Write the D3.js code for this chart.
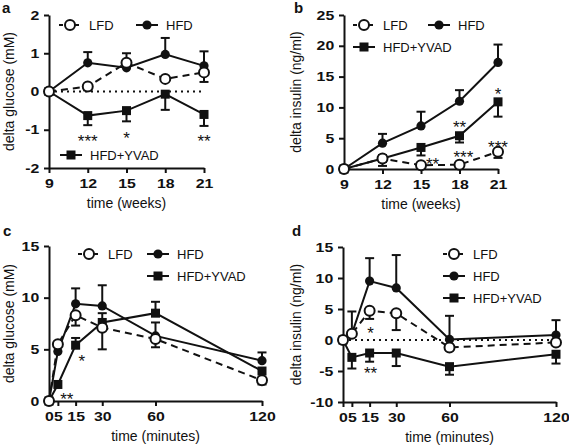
<!DOCTYPE html>
<html><head><meta charset="utf-8">
<script src="https://cdn.jsdelivr.net/npm/d3@7"></script>
<style>
body{margin:0;background:#fff}
text{font-family:"Liberation Sans",Arial,Helvetica,sans-serif;fill:#111}
</style>
</head><body>
<svg id="chart" width="569" height="445"></svg>
<script>
// ---------- data ----------
const weeks = [9, 12, 15, 18, 21];
const minutes = [0, 5, 15, 30, 60, 120];
const seriesNames = ["LFD", "HFD", "HFD+YVAD"];

// panel a: delta glucose (mM) vs weeks
const aLFD = [0, 0.13, 0.75, 0.33, 0.50];
const aLFDerr = [null, 0.03, null, null, 0.25];
const aHFD = [0, 0.75, 0.62, 0.97, 0.67];
const aHFDerr = [null, 1.03, 1.0, 1.4, 1.05];
const aYVAD = [0, -0.63, -0.50, -0.07, -0.60];
const aYVADerr = [null, -0.88, -0.78, -0.48, -0.90];
const aStars = [["***", 12, -1.2], ["*", 15, -1.1], ["**", 21, -1.2]];
const aYTicks = [-2, -1, 0, 1, 2];

// panel b: delta insulin (ng/ml) vs weeks
const bLFD = [0, 1.7, 0.6, 0.7, 2.8];
const bLFDerr = [null, 0.5, null, null, 1.8];
const bHFD = [0, 4.2, 7.0, 11.0, 17.3];
const bHFDerr = [null, 5.7, 9.3, 12.8, 20.2];
const bYVAD = [0, 1.7, 3.5, 5.4, 10.9];
const bYVADerr = [null, null, 2.2, 4.3, 8.5];
const bStars = [["**", 15.9, 1.5], ["***", 18.3, 2.6], ["**", 18, 7.5], ["***", 21, 4.2], ["*", 21, 12.8]];
const bYTicks = [0, 5, 10, 15, 20, 25];

// panel c: delta glucose (mM) vs minutes
const cLFD = [0, 5.5, 8.3, 7.1, 6.0, 2.0];
const cLFDerr = [null, null, 7.3, 5.0, 5.2, 1.6];
const cHFD = [0, 4.8, 9.4, 9.2, 6.3, 3.9];
const cHFDerr = [null, null, 10.9, 11.2, 7.6, 4.7];
const cYVAD = [0, 1.6, 5.4, 7.6, 8.5, 2.9];
const cYVADerr = [null, null, 6.1, 8.5, 9.6, null];
const cStars = [["**", 10, 0.6], ["*", 18.5, 4.3]];
const cYTicks = [0, 5, 10, 15];

// panel d: delta insulin (ng/ml) vs minutes
const dLFD = [0, 1.0, 4.7, 4.3, -1.2, -0.4];
const dLFDerr = [null, null, 3.4, 1.6, null, null];
const dHFD = [0, 1.0, 9.5, 8.4, 0.1, 0.8];
const dHFDerr = [null, 4.6, 13.2, 13.7, 3.9, 3.2];
const dYVAD = [0, -2.8, -2.1, -2.1, -4.3, -2.3];
const dYVADerr = [null, -4.6, -3.5, -4.2, -5.6, -3.8];
const dStars = [["*", 15.5, 1.7], ["**", 15.5, -4.6]];
const dYTicks = [-10, -5, 0, 5, 10, 15];

// ---------- drawing ----------
const svg = d3.select("#chart");
const FONT = '"Liberation Sans",Arial,Helvetica,sans-serif';

function marker(g, type, x, y) {
  if (type === "LFD") {
    g.append("circle").attr("cx", x).attr("cy", y).attr("r", 5)
      .attr("fill", "#fff").attr("stroke", "#111").attr("stroke-width", 2);
  } else if (type === "HFD") {
    g.append("circle").attr("cx", x).attr("cy", y).attr("r", 4.6).attr("fill", "#111");
  } else {
    g.append("rect").attr("x", x - 4.5).attr("y", y - 4.5).attr("width", 9).attr("height", 9).attr("fill", "#111");
  }
}

function drawPanel(p) {
  const g = svg.append("g");
  const x = d3.scaleLinear().domain(p.xDomain).range(p.xRange);
  const y = d3.scaleLinear().domain(p.yDomain).range(p.yRange);

  // axes
  const xa = g.append("g").attr("transform", `translate(0,${p.yRange[0]})`)
    .call(d3.axisBottom(x).tickValues(p.xTicks).tickSize(5).tickSizeOuter(0).tickPadding(6).tickFormat(d => String(d)));
  const ya = g.append("g").attr("transform", `translate(${p.xRange[0]},0)`)
    .call(d3.axisLeft(y).tickValues(p.yTicks).tickSize(5).tickSizeOuter(0).tickPadding(3).tickFormat(d => String(d)));
  [xa, ya].forEach(a => {
    a.select(".domain").attr("stroke", "#111").attr("stroke-width", 2);
    a.selectAll(".tick line").attr("stroke", "#111").attr("stroke-width", 2);
    a.selectAll(".tick text").attr("font-family", FONT).attr("font-size", 13).attr("font-weight", "bold")
      .attr("fill", "#111").attr("transform", "scale(1.22,1)");
  });

  // dotted zero line
  if (p.zeroLine) {
    g.append("line").attr("x1", x(p.xDomain[0])).attr("x2", x(p.xDomain[1]))
      .attr("y1", y(0)).attr("y2", y(0)).attr("stroke", "#111").attr("stroke-width", 2)
      .attr("stroke-dasharray", "2,4");
  }

  // series: YVAD, HFD, LFD (LFD on top)
  const order = [2, 1, 0];
  order.forEach(i => {
    const name = seriesNames[i];
    const vals = p.series[i], errs = p.errs[i];
    const pts = p.xs.map((xv, k) => [xv, vals[k]]);
    const line = d3.line().x(d => x(d[0])).y(d => y(d[1]));
    g.append("path").attr("d", line(pts)).attr("fill", "none").attr("stroke", "#111")
      .attr("stroke-width", 2).attr("stroke-dasharray", name === "LFD" ? "7,5" : null);
    errs.forEach((e, k) => {
      if (e === null) return;
      const cx = x(p.xs[k]);
      g.append("line").attr("x1", cx).attr("x2", cx).attr("y1", y(vals[k])).attr("y2", y(e))
        .attr("stroke", "#111").attr("stroke-width", 2);
      g.append("line").attr("x1", cx - 4.5).attr("x2", cx + 4.5).attr("y1", y(e)).attr("y2", y(e))
        .attr("stroke", "#111").attr("stroke-width", 2);
    });
  });
  order.forEach(i => {
    const vals = p.series[i];
    p.xs.forEach((xv, k) => marker(g, seriesNames[i], x(xv), y(vals[k])));
  });

  // stars
  p.stars.forEach(s => {
    g.append("text").attr("x", x(s[1])).attr("y", y(s[2]) + 10).attr("text-anchor", "middle")
      .attr("font-size", 17).text(s[0]);
  });

  // axis titles
  g.append("text").attr("transform", `translate(${p.yLabelX},${(p.yRange[0] + p.yRange[1]) / 2}) rotate(-90)`)
    .attr("text-anchor", "middle").attr("dy", "0.35em").attr("font-size", 14).text(p.yLabel);
  g.append("text").attr("x", (p.xRange[0] + p.xRange[1]) / 2).attr("y", p.yRange[0] + 40)
    .attr("text-anchor", "middle").attr("font-size", 14).text(p.xLabel);

  // panel letter
  g.append("text").attr("x", p.letterPos[0]).attr("y", p.letterPos[1]).attr("font-size", 15)
    .attr("font-weight", "bold").text(p.letter);

  // legend
  p.legend.forEach(l => {
    const name = seriesNames[l[0]];
    const x0 = l[1], yy = l[2];
    g.append("line").attr("x1", x0).attr("x2", x0 + 22).attr("y1", yy).attr("y2", yy)
      .attr("stroke", "#111").attr("stroke-width", 2).attr("stroke-dasharray", name === "LFD" ? "4,4" : null);
    marker(g, name, x0 + 11, yy);
    g.append("text").attr("x", x0 + 30).attr("y", yy).attr("dy", "0.36em").attr("font-size", 13).text(name);
  });
}

drawPanel({
  letter: "a", letterPos: [2, 13],
  xs: weeks, xTicks: weeks, xDomain: [9, 21], xRange: [49, 204],
  yDomain: [-2, 2], yRange: [168, 15], yTicks: aYTicks,
  series: [aLFD, aHFD, aYVAD], errs: [aLFDerr, aHFDerr, aYVADerr],
  stars: aStars, zeroLine: true,
  yLabel: "delta glucose (mM)", yLabelX: 9, xLabel: "time (weeks)",
  legend: [[0, 59, 25], [1, 136, 25], [2, 60, 155]]
});
drawPanel({
  letter: "b", letterPos: [294, 13],
  xs: weeks, xTicks: weeks, xDomain: [9, 21], xRange: [344, 498],
  yDomain: [0, 25], yRange: [169, 15], yTicks: bYTicks,
  series: [bLFD, bHFD, bYVAD], errs: [bLFDerr, bHFDerr, bYVADerr],
  stars: bStars, zeroLine: false,
  yLabel: "delta insulin (ng/ml)", yLabelX: 296, xLabel: "time (weeks)",
  legend: [[0, 353, 25], [1, 428, 25], [2, 353, 47]]
});
drawPanel({
  letter: "c", letterPos: [3, 236],
  xs: minutes, xTicks: minutes, xDomain: [0, 120], xRange: [49, 262],
  yDomain: [0, 15], yRange: [401, 246], yTicks: cYTicks,
  series: [cLFD, cHFD, cYVAD], errs: [cLFDerr, cHFDerr, cYVADerr],
  stars: cStars, zeroLine: false,
  yLabel: "delta glucose (mM)", yLabelX: 9, xLabel: "time (minutes)",
  legend: [[0, 78, 254], [1, 147, 254], [2, 147, 276]]
});
drawPanel({
  letter: "d", letterPos: [292, 236],
  xs: minutes, xTicks: minutes, xDomain: [0, 120], xRange: [343, 556],
  yDomain: [-10, 15], yRange: [402, 247], yTicks: dYTicks,
  series: [dLFD, dHFD, dYVAD], errs: [dLFDerr, dHFDerr, dYVADerr],
  stars: dStars, zeroLine: true,
  yLabel: "delta insulin (ng/ml)", yLabelX: 296, xLabel: "time (minutes)",
  legend: [[0, 443, 254], [1, 443, 276], [2, 443, 298]]
});
</script>
</body></html>
